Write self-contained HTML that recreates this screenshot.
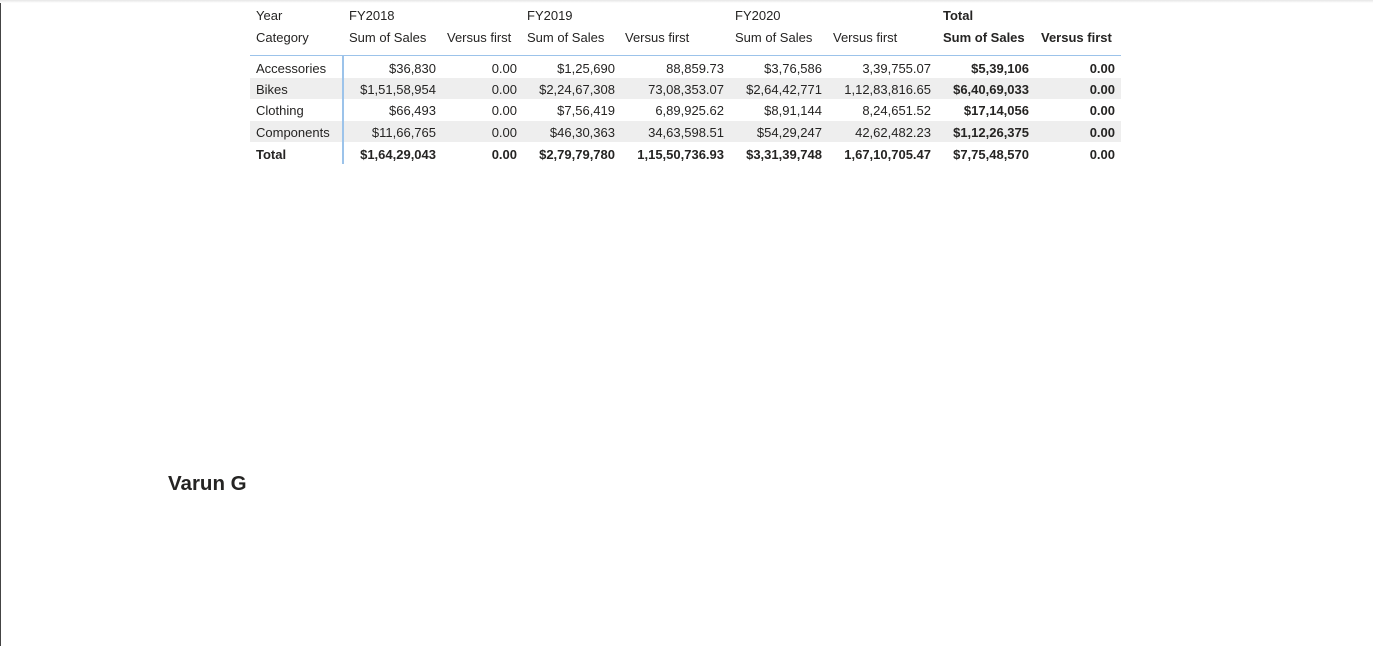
<!DOCTYPE html>
<html><head><meta charset="utf-8">
<style>
html,body{margin:0;padding:0;background:#fff;}
body{width:1373px;height:646px;position:relative;overflow:hidden;font-family:"Liberation Sans",sans-serif;color:#252423;}
.c{position:absolute;font-size:13px;line-height:16px;white-space:nowrap;}
.r{text-align:right;}
.b{font-weight:bold;}
.band{position:absolute;left:250px;width:871px;background:#eeeeee;}
</style></head>
<body>
<div style="position:absolute;left:0;top:0;width:1px;height:646px;background:#444;"></div>
<div style="position:absolute;left:0;top:0;width:1373px;height:3px;background:linear-gradient(#e6e6e6,#fff);"></div>
<div id="matrix"></div>
<div style="position:absolute;left:168px;top:472px;font-size:20.5px;font-weight:bold;color:#252423;">Varun G</div>
<script>
const categories = ["Accessories","Bikes","Clothing","Components"];
const years = ["FY2018","FY2019","FY2020"];
const sales2018 = ["$36,830","$1,51,58,954","$66,493","$11,66,765"];
const vs2018 = ["0.00","0.00","0.00","0.00"];
const sales2019 = ["$1,25,690","$2,24,67,308","$7,56,419","$46,30,363"];
const vs2019 = ["88,859.73","73,08,353.07","6,89,925.62","34,63,598.51"];
const sales2020 = ["$3,76,586","$2,64,42,771","$8,91,144","$54,29,247"];
const vs2020 = ["3,39,755.07","1,12,83,816.65","8,24,651.52","42,62,482.23"];
const salesTotal = ["$5,39,106","$6,40,69,033","$17,14,056","$1,12,26,375"];
const vsTotal = ["0.00","0.00","0.00","0.00"];
const totalsRow = ["$1,64,29,043","0.00","$2,79,79,780","1,15,50,736.93","$3,31,39,748","1,67,10,705.47","$7,75,48,570","0.00"];

const m = document.getElementById('matrix');
const colRight = [436,517,615,724,822,931,1029,1115];
const colLeft = [349,447,527,625,735,833,943,1041];
const rowTop = [57,78,99,121,142];
function cell(txt,x,y,cls,right,name){
  const d=document.createElement('div');
  d.className='c '+cls;
  d.textContent=txt;
  if(right){d.style.right=(1373-x)+'px';}else{d.style.left=x+'px';}
  d.style.top=y+'px';
  
  
  m.appendChild(d);
}
[1,3].forEach(i=>{
  const b=document.createElement('div');
  b.className='band';
  b.style.top=rowTop[i]+'px';b.style.height=(rowTop[i+1]-rowTop[i])+'px';
  
  
  m.appendChild(b);
});
cell("Year",256,8,'',false,'year-header');
cell("Category",256,30,'',false,'category-header');
years.forEach((y,i)=>cell(y,colLeft[i*2],8,'',false,'year-label'));
cell("Total",colLeft[6],8,'b',false,'total-header');
for(let i=0;i<4;i++){
  const bold=i===3?'b':'';
  cell("Sum of Sales",colLeft[i*2],30,bold,false,'sum-of-sales-header');
  cell("Versus first",colLeft[i*2+1],30,bold,false,'versus-first-header');
}
const dv=document.createElement('div');
dv.style.cssText='position:absolute;left:250px;top:55px;width:871px;height:1px;background:#9cc3ea;';


m.appendChild(dv);
const vd=document.createElement('div');
vd.style.cssText='position:absolute;left:342px;top:56px;width:2px;height:108px;background:#9cc3ea;';


m.appendChild(vd);
const cols=[sales2018,vs2018,sales2019,vs2019,sales2020,vs2020,salesTotal,vsTotal];
categories.forEach((c,i)=>{
  const y=rowTop[i]+4;
  cell(c,256,y,'',false,'category-label');
  cols.forEach((arr,j)=>cell(arr[i],colRight[j],y,j>=6?'b':'',true,'value-cell'));
});
cell("Total",256,rowTop[4]+5,'b',false,'total-row-label');
totalsRow.forEach((v,j)=>cell(v,colRight[j],rowTop[4]+5,'b',true,'total-cell'));
</script>
</body></html>
